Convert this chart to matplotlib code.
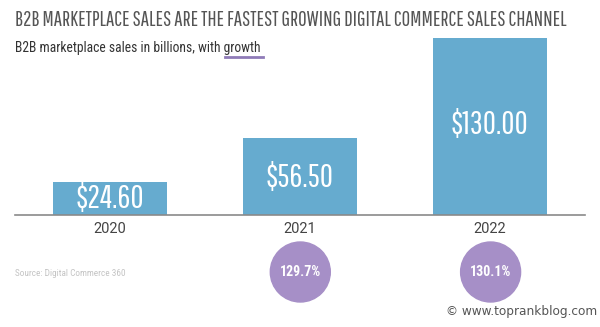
import matplotlib.pyplot as plt
from matplotlib.patches import Ellipse

years = ["2020", "2021", "2022"]
sales = [24.60, 56.50, 130.00]
growth = [None, "129.7%", "130.1%"]

BAR = "#66abcf"
PURPLE = "#a68fc7"
GOTHIC = ["Pathway Gothic One", "DejaVu Sans"]
COND = ["Roboto Condensed", "DejaVu Sans"]

fig = plt.figure(figsize=(6, 3.27), dpi=100)

# overlay in pixel coords for free text / circles
ov = fig.add_axes([0, 0, 1, 1])
ov.set_xlim(0, 600)
ov.set_ylim(327, 0)
ov.axis("off")

ax = fig.add_axes([15 / 600, 112 / 327, 570 / 600, 177 / 327])
ax.patch.set_visible(False)
x = range(len(years))
ax.bar(x, sales, width=0.6, color=BAR, zorder=2)
ax.set_xlim(-0.5, 2.5)
ax.set_ylim(0, 130)
for s in ["top", "left", "right"]:
    ax.spines[s].set_visible(False)
ax.spines["bottom"].set_color("#8a8a8a")
ax.spines["bottom"].set_linewidth(1.2)
ax.set_yticks([])
ax.set_xticks(list(x))
ax.set_xticklabels(years, fontsize=10.5, color="#444444", family=["Roboto", "DejaVu Sans"])
ax.tick_params(axis="x", length=0, pad=5)

label_y = [11.8, 27.2, 66]
for i, v in enumerate(sales):
    ax.text(i, label_y[i], f"${v:.2f}", ha="center", va="center",
            color="white", fontsize=23, family=GOTHIC)

# title and subtitle
ov.text(15, 20.5, "B2B MARKETPLACE SALES ARE THE FASTEST GROWING DIGITAL COMMERCE SALES CHANNEL",
        ha="left", va="center", fontsize=15, color="#555555", family=GOTHIC)
ov.text(15, 48, "B2B marketplace sales in billions, with growth", ha="left", va="center",
        fontsize=9.8, color="#333333", family=COND)
ov.plot([225, 263], [57, 57], color="#8f7bb8", lw=2)

# growth circles
for i, g in enumerate(growth):
    if g is None:
        continue
    cx = 110 + 190.3 * i
    ov.add_patch(Ellipse((cx, 272), 60, 60, color=PURPLE))
    ov.text(cx, 272, g, ha="center", va="center", color="white", fontsize=10,
            fontweight="bold", family=COND)

ov.text(15, 273, "Source: Digital Commerce 360", ha="left", va="center",
        fontsize=6.7, color="#c4c4c4", family=COND)
ov.text(597, 312, "© www.toprankblog.com", ha="right", va="center",
        fontsize=8.7, color="#555555")

fig.savefig("out.png", dpi=100)
